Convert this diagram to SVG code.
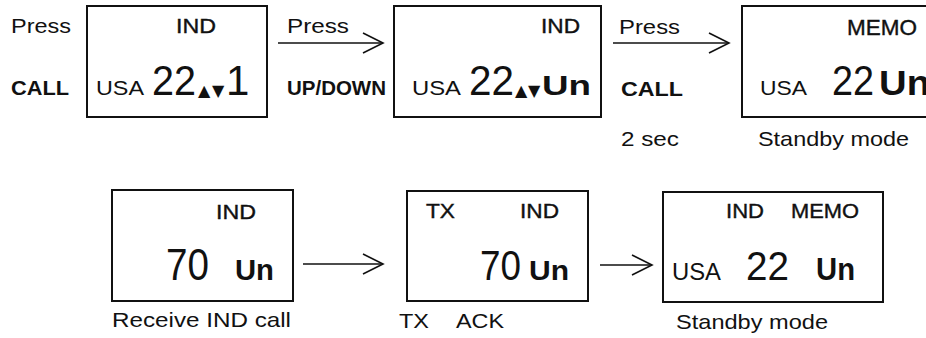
<svg xmlns="http://www.w3.org/2000/svg" width="926" height="338" viewBox="0 0 926 338">
<defs>
<style>
.box{fill:none;stroke:#111;stroke-width:2}
.conn{fill:none;stroke:#111;stroke-width:1.6}
.t{font-family:"Liberation Sans",Arial,sans-serif;fill:#111;font-size:21px}
.b{font-weight:bold}
.m{stroke:#111;stroke-width:0.4}
.big{font-size:42px}
.tri{font-family:"DejaVu Sans",sans-serif;font-size:16px;fill:#111}
</style>
<marker id="chev" markerUnits="userSpaceOnUse" markerWidth="24" markerHeight="24" refX="21" refY="11" orient="auto" overflow="visible">
<path d="M1,1 L21,11 L1,21" fill="none" stroke="#111" stroke-width="1.6"/>
</marker>
</defs>
<rect width="926" height="338" fill="#fff"/>

<g id="connectors">
<line class="conn" x1="278" y1="43" x2="383" y2="43" marker-end="url(#chev)"/>
<line class="conn" x1="613" y1="43" x2="729" y2="43" marker-end="url(#chev)"/>
<line class="conn" x1="303" y1="264" x2="383" y2="264" marker-end="url(#chev)"/>
<line class="conn" x1="600" y1="265" x2="652" y2="265" marker-end="url(#chev)"/>
</g>

<g id="labels">
<text class="t" x="11" y="33" textLength="60" lengthAdjust="spacingAndGlyphs">Press</text>
<text class="t b" x="11" y="95" textLength="58" lengthAdjust="spacingAndGlyphs">CALL</text>
<text class="t" x="287" y="33" textLength="62" lengthAdjust="spacingAndGlyphs">Press</text>
<text class="t b" x="287" y="95" textLength="99" lengthAdjust="spacingAndGlyphs">UP/DOWN</text>
<text class="t" x="619" y="34" textLength="61" lengthAdjust="spacingAndGlyphs">Press</text>
<text class="t b" x="621" y="96" textLength="62" lengthAdjust="spacingAndGlyphs">CALL</text>
<text class="t" x="621" y="146" textLength="58" lengthAdjust="spacingAndGlyphs">2 sec</text>
<text class="t" x="758" y="146" textLength="151" lengthAdjust="spacingAndGlyphs">Standby mode</text>
<text class="t" x="112" y="327" textLength="179" lengthAdjust="spacingAndGlyphs">Receive IND call</text>
<text class="t" x="399" y="328" textLength="30" lengthAdjust="spacingAndGlyphs">TX</text>
<text class="t" x="456" y="328" textLength="48" lengthAdjust="spacingAndGlyphs">ACK</text>
<text class="t" x="676" y="329" textLength="152" lengthAdjust="spacingAndGlyphs">Standby mode</text>
</g>

<g id="box1">
<rect class="box" x="87" y="6" width="180" height="111"/>
<text class="t m" x="176" y="33" textLength="40" lengthAdjust="spacingAndGlyphs">IND</text>
<text class="t" x="96" y="95" textLength="48" lengthAdjust="spacingAndGlyphs">USA</text>
<text class="t big" x="152" y="95" textLength="44" lengthAdjust="spacingAndGlyphs">22</text>
<text class="tri" x="198" y="96">▲</text>
<text class="tri" x="212" y="96">▼</text>
<text class="t big" x="226" y="95">1</text>
</g>

<g id="box2">
<rect class="box" x="394" y="6" width="207" height="111"/>
<text class="t m" x="541" y="33" textLength="39" lengthAdjust="spacingAndGlyphs">IND</text>
<text class="t" x="412" y="95" textLength="49" lengthAdjust="spacingAndGlyphs">USA</text>
<text class="t big" x="469" y="95" textLength="45" lengthAdjust="spacingAndGlyphs">22</text>
<text class="tri" x="515" y="96">▲</text>
<text class="tri" x="528" y="96">▼</text>
<text class="t b" x="542" y="95" style="font-size:28px" textLength="49" lengthAdjust="spacingAndGlyphs">Un</text>
</g>

<g id="box3">
<rect class="box" x="742" y="6" width="200" height="111"/>
<text class="t m" x="847" y="35" style="font-size:22px" textLength="70" lengthAdjust="spacingAndGlyphs">MEMO</text>
<text class="t" x="760" y="95" textLength="47" lengthAdjust="spacingAndGlyphs">USA</text>
<text class="t big" x="832" y="95" textLength="42" lengthAdjust="spacingAndGlyphs">22</text>
<text class="t b" x="879" y="95" style="font-size:35px" textLength="51" lengthAdjust="spacingAndGlyphs">Un</text>
</g>

<g id="box4">
<rect class="box" x="112" y="190" width="181" height="111"/>
<text class="t m" x="216" y="219" textLength="40" lengthAdjust="spacingAndGlyphs">IND</text>
<text class="t" x="166" y="280" style="font-size:44px" textLength="43" lengthAdjust="spacingAndGlyphs">70</text>
<text class="t b" x="235" y="280" style="font-size:30px" textLength="39" lengthAdjust="spacingAndGlyphs">Un</text>
</g>

<g id="box5">
<rect class="box" x="407" y="191" width="181" height="110"/>
<text class="t m" x="426" y="218" textLength="29" lengthAdjust="spacingAndGlyphs">TX</text>
<text class="t m" x="520" y="218" textLength="39" lengthAdjust="spacingAndGlyphs">IND</text>
<text class="t" x="480" y="280" style="font-size:43px" textLength="41" lengthAdjust="spacingAndGlyphs">70</text>
<text class="t b" x="529" y="280" style="font-size:28px" textLength="40" lengthAdjust="spacingAndGlyphs">Un</text>
</g>

<g id="box6">
<rect class="box" x="663" y="192" width="220" height="110"/>
<text class="t m" x="726" y="218" textLength="38" lengthAdjust="spacingAndGlyphs">IND</text>
<text class="t m" x="791" y="218" textLength="68" lengthAdjust="spacingAndGlyphs">MEMO</text>
<text class="t" x="672" y="280" style="font-size:23px" textLength="49" lengthAdjust="spacingAndGlyphs">USA</text>
<text class="t" x="746" y="280" style="font-size:40px" textLength="43" lengthAdjust="spacingAndGlyphs">22</text>
<text class="t b" x="816" y="280" style="font-size:32px" textLength="39" lengthAdjust="spacingAndGlyphs">Un</text>
</g>
</svg>
